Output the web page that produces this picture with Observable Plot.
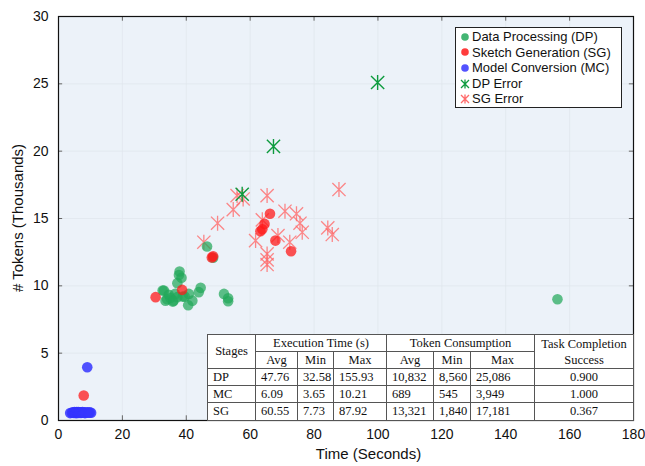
<!DOCTYPE html>
<html><head><meta charset="utf-8">
<script src="https://cdn.jsdelivr.net/npm/d3@7"></script>
<script src="https://cdn.jsdelivr.net/npm/@observablehq/plot@0.6"></script>
<style>
body{margin:0;background:#fff;}
#wrap{position:relative;width:645px;height:466px;font-family:"Liberation Sans",Arial,sans-serif;color:#111;}
#legend{position:absolute;left:455px;top:27px;width:167px;height:81px;background:#fff;border:1px solid #222;font-size:13px;padding:1px 0 0 4px;box-sizing:border-box;}
#legend div{display:flex;align-items:center;height:15.6px;line-height:15.6px;white-space:nowrap;}
#legend svg{margin-right:2px;flex:none;}
#tbl{position:absolute;left:207px;top:334px;width:426px;height:86px;border-collapse:collapse;background:#fff;font-family:"Liberation Serif","Times New Roman",serif;font-size:12.5px;color:#111;table-layout:fixed;}
#tbl td,#tbl th{border:1px solid #555;padding:0 0 0 5px;font-weight:normal;text-align:left;white-space:nowrap;overflow:hidden;}
#tbl th{text-align:center;padding:0;}
#tbl td.c{text-align:center;padding:0;}
#tbl th.tc{line-height:16px;}
.xl{position:absolute;left:0;width:645px;top:445px;text-align:center;font-size:15px;}
.yl{position:absolute;left:17px;top:218px;transform:translate(-50%,-50%) rotate(-90deg);font-size:15px;white-space:nowrap;}
</style></head><body><div id="wrap"></div>
<script>
// ---- data (time in seconds, tokens in thousands) ----
const dpTime = [46.5,48.4,37.9,38.5,37.7,37.2,33.0,34.5,33.5,35.8,37.2,38.9,40.8,41.9,40.6,44.5,43.9,51.8,53.1,53.1,39.5,36.5,35.0,156.2,32.6,34.0,36.0];
const dpTok  = [12.92,12.08,11.06,10.6,10.8,10.2,9.65,9.33,8.9,8.83,9.16,9.2,9.4,8.9,8.56,9.85,9.53,9.4,9.08,8.86,9.2,9.4,9.1,9.0,9.65,9.0,8.9];
const sgTime = [66.2,64.5,63.8,63.2,67.9,72.8,48.4,48.0,38.7,30.4,7.9];
const sgTok  = [15.35,14.6,14.2,14.05,13.36,12.57,12.2,12.1,9.7,9.16,1.86];
const mcTime = [3.65,4.2,4.5,4.8,5.0,5.2,5.4,5.5,5.7,5.9,6.0,6.1,6.2,6.3,6.5,6.6,6.8,7.0,7.2,7.5,7.7,8.0,8.3,8.6,9.0,9.4,9.8,10.21,9.0];
const mcTok  = [0.55,0.58,0.6,0.56,0.62,0.57,0.6,0.55,0.63,0.58,0.6,0.56,0.62,0.59,0.57,0.61,0.6,0.56,0.58,0.62,0.57,0.6,0.55,0.59,0.61,0.57,0.6,0.58,3.95];
const dpErrTime = [57.5,67.3,99.9];
const dpErrTok  = [16.8,20.35,25.1];
const sgErrTime = [55.9,57.8,65.3,87.8,54.7,49.8,45.5,70.9,74.5,75.6,76.3,68.7,72.4,61.7,63.8,65.3,65.3,65.3,84.3,85.7];
const sgErrTok  = [16.7,16.45,16.7,17.15,15.66,14.65,13.24,15.54,15.35,14.65,13.98,13.73,13.24,13.36,14.9,12.37,11.93,11.58,14.3,13.81];

const xTicks = [0,20,40,60,80,100,120,140,160,180];
const yTicks = [0,5,10,15,20,25,30];

const seriesNames = ["Data Processing (DP)","Sketch Generation (SG)","Model Conversion (MC)","DP Error","SG Error"];
const seriesColors = ["#22a85a","#ff1a1a","#3535ff","#0d9b3e","#ff6a6a"];

// table
const stages   = ["DP","MC","SG"];
const execAvg  = ["47.76","6.09","60.55"];
const execMin  = ["32.58","3.65","7.73"];
const execMax  = ["155.93","10.21","87.92"];
const tokAvg   = ["10,832","689","13,321"];
const tokMin   = ["8,560","545","1,840"];
const tokMax   = ["25,086","3,949","17,181"];
const success  = ["0.900","1.000","0.367"];

const pts = (xs, ys) => xs.map((x,i)=>({x, y: ys[i]}));

const asterisk = {
  draw(ctx, size) {
    const r = Math.sqrt(size / Math.PI);
    const d = r * 0.88;
    ctx.moveTo(0, -r); ctx.lineTo(0, r);
    ctx.moveTo(-d, -d); ctx.lineTo(d, d);
    ctx.moveTo(-d, d); ctx.lineTo(d, -d);
  }
};

const chart = Plot.plot({
  width: 645, height: 466,
  marginLeft: 58, marginRight: 12, marginTop: 16, marginBottom: 46,
  style: {fontSize: "14px", fontFamily: "'Liberation Sans', Arial, sans-serif", color: "#111", background: "transparent"},
  x: {domain: [0,180], ticks: xTicks, tickSize: 0, tickPadding: 9, label: null},
  y: {domain: [0,30], ticks: yTicks, tickSize: 0, tickPadding: 10, label: null},
  marks: [
    Plot.frame({fill: "#ecf2f9", stroke: null}),
    Plot.ruleX(xTicks.slice(1,-1), {stroke: "#dfe5ec", strokeWidth: 0.7}),
    Plot.ruleY(yTicks.slice(1,-1), {stroke: "#dfe5ec", strokeWidth: 0.7}),
    Plot.ruleX(xTicks, {y1: 0, y2: 0.35, stroke: "#666"}),
    Plot.ruleX(xTicks, {y1: 29.65, y2: 30, stroke: "#666"}),
    Plot.ruleY(yTicks, {x1: 0, x2: 1.3, stroke: "#666"}),
    Plot.ruleY(yTicks, {x1: 178.7, x2: 180, stroke: "#666"}),
    Plot.dot(pts(sgErrTime, sgErrTok), {x: "x", y: "y", symbol: asterisk, r: 7.5, fill: "none", stroke: seriesColors[4], strokeWidth: 1.3, strokeOpacity: 0.8}),
    Plot.dot(pts(dpTime, dpTok), {x: "x", y: "y", r: 5.3, fill: seriesColors[0], fillOpacity: 0.72, stroke: "none"}),
    Plot.dot(pts(sgTime, sgTok), {x: "x", y: "y", r: 5.3, fill: seriesColors[1], fillOpacity: 0.75, stroke: "none"}),
    Plot.dot(pts(mcTime, mcTok), {x: "x", y: "y", r: 5.3, fill: seriesColors[2], fillOpacity: 0.85, stroke: "none"}),
    Plot.dot(pts(dpErrTime, dpErrTok), {x: "x", y: "y", symbol: asterisk, r: 7.5, fill: "none", stroke: seriesColors[3], strokeWidth: 1.4}),
    Plot.frame({stroke: "#111", strokeWidth: 1.2})
  ]
});

const wrap = document.getElementById("wrap");
wrap.appendChild(chart);

// axis titles
const xl = document.createElement("div"); xl.className = "xl"; xl.style.paddingLeft = "46px"; xl.textContent = "Time (Seconds)"; wrap.appendChild(xl);
const yl = document.createElement("div"); yl.className = "yl"; yl.textContent = "# Tokens (Thousands)"; wrap.appendChild(yl);

// legend
const leg = document.createElement("div"); leg.id = "legend";
seriesNames.forEach((name, i) => {
  const row = document.createElement("div");
  const sw = i < 3
    ? `<svg width="10" height="10"><circle cx="5" cy="5" r="3.8" fill="${seriesColors[i]}" fill-opacity="0.85"/></svg>`
    : `<svg width="10" height="10"><path d="M5,0.5V9.5M1,1L9,9M1,9L9,1" stroke="${seriesColors[i]}" stroke-width="1.3" fill="none"/></svg>`;
  row.innerHTML = sw + `<span>${name}</span>`;
  leg.appendChild(row);
});
wrap.appendChild(leg);

// table
const t = document.createElement("table"); t.id = "tbl";
let html = `<colgroup><col style="width:48px"><col style="width:42px"><col style="width:36px"><col style="width:53px"><col style="width:47px"><col style="width:37px"><col style="width:64px"><col style="width:99px"></colgroup>`;
html += `<tr style="height:17px"><th rowspan="2">Stages</th><th colspan="3">Execution Time (s)</th><th colspan="3">Token Consumption</th><th rowspan="2" class="tc">Task Completion<br>Success</th></tr>`;
html += `<tr style="height:17px"><th>Avg</th><th>Min</th><th>Max</th><th>Avg</th><th>Min</th><th>Max</th></tr>`;
stages.forEach((s, i) => {
  html += `<tr style="height:${i===2?18:17}px"><td>${s}</td><td>${execAvg[i]}</td><td>${execMin[i]}</td><td>${execMax[i]}</td><td>${tokAvg[i]}</td><td>${tokMin[i]}</td><td>${tokMax[i]}</td><td class="c">${success[i]}</td></tr>`;
});
t.innerHTML = html;
wrap.appendChild(t);
</script>
</body></html>
